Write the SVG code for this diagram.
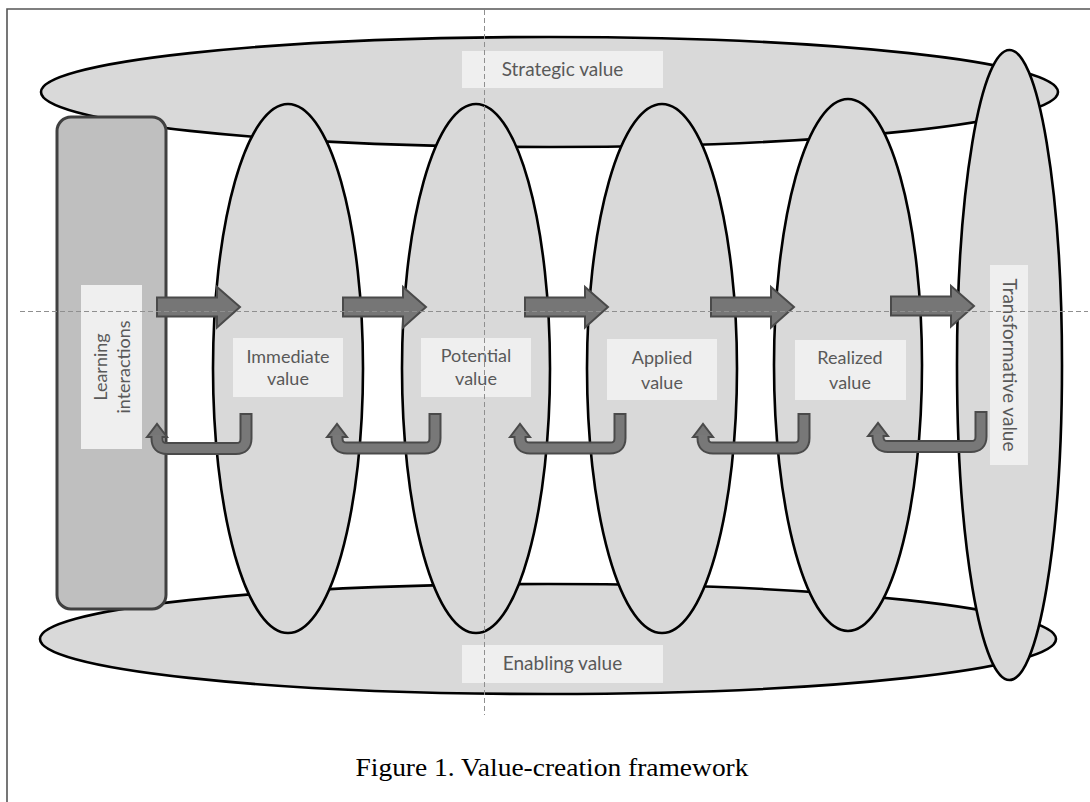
<svg xmlns="http://www.w3.org/2000/svg" width="1090" height="802" viewBox="0 0 1090 802">
<style>
.ell{fill:#d9d9d9;stroke:#000;stroke-width:2.6}
.box{fill:#efefef}
.lbl{font-family:Lato,"Open Sans",sans-serif;font-size:18px;fill:#595959;text-anchor:middle}
.big{font-size:19px}
.fw{fill:#767676;stroke:#4a4a4a;stroke-width:2;stroke-linejoin:miter}
.ro{fill:none;stroke:#4a4a4a;stroke-width:13}
.ri{fill:none;stroke:#787878;stroke-width:9}
.guide{stroke:#8f8f8f;stroke-width:1;stroke-dasharray:5 3;fill:none}
</style>
<defs>
<path id="fa" d="M0,-9.5 H60 V-20 L83,0 L60,20.5 V9.5 H0 Z"/>
</defs>
<rect x="0" y="0" width="1090" height="802" fill="#fff"/>
<path d="M7,802 V9 H1090" fill="none" stroke="#555" stroke-width="1.6"/>

<g id="strategic">
<ellipse class="ell" cx="549.5" cy="92" rx="508.5" ry="55"/>
</g>
<g id="enabling">
<ellipse class="ell" cx="548" cy="639" rx="508" ry="55"/>
</g>
<g id="learning">
<rect x="57" y="117" width="109" height="492" rx="14" fill="#bfbfbf" stroke="#404040" stroke-width="3"/>
</g>
<g id="immediate">
<ellipse class="ell" cx="288" cy="368.5" rx="75" ry="264.5"/>
</g>
<g id="potential">
<ellipse class="ell" cx="476" cy="368.5" rx="74" ry="264.5"/>
</g>
<g id="applied">
<ellipse class="ell" cx="662" cy="368.5" rx="75" ry="264.5"/>
</g>
<g id="realized">
<ellipse class="ell" cx="848" cy="365" rx="74" ry="266"/>
</g>
<g id="transformative">
<ellipse class="ell" cx="1009.5" cy="365" rx="52.5" ry="315"/>
</g>

<g id="connectors">
<use href="#fa" class="fw" x="157" y="307"/>
<use href="#fa" class="fw" x="343" y="307"/>
<use href="#fa" class="fw" x="525" y="307"/>
<use href="#fa" class="fw" x="711" y="307"/>
<use href="#fa" class="fw" x="891" y="306"/>

<g id="ret1">
<path class="ro" d="M246,413 V438.5 Q246,448.5 236,448.5 H167 Q157,448.5 157,438.5 V436"/>
<polygon class="fw" points="147,437 157,424 167,437"/>
<path class="ri" d="M246,415 V438.5 Q246,448.5 236,448.5 H167 Q157,448.5 157,438.5 V435"/>
</g>
<g id="ret2">
<path class="ro" d="M435,413 V438 Q435,448 425,448 H347 Q337,448 337,438 V436"/>
<polygon class="fw" points="327,437 337,424 347,437"/>
<path class="ri" d="M435,415 V438 Q435,448 425,448 H347 Q337,448 337,438 V435"/>
</g>
<g id="ret3">
<path class="ro" d="M620,413 V438 Q620,448 610,448 H530 Q520,448 520,438 V436"/>
<polygon class="fw" points="510,437 520,424 530,437"/>
<path class="ri" d="M620,415 V438 Q620,448 610,448 H530 Q520,448 520,438 V435"/>
</g>
<g id="ret4">
<path class="ro" d="M804,413 V438 Q804,448 794,448 H713 Q703,448 703,438 V436"/>
<polygon class="fw" points="693,437 703,424 713,437"/>
<path class="ri" d="M804,415 V438 Q804,448 794,448 H713 Q703,448 703,438 V435"/>
</g>
<g id="ret5">
<path class="ro" d="M981,411 V436.5 Q981,446.5 971,446.5 H888 Q878,446.5 878,436.5 V435"/>
<polygon class="fw" points="868,436 878,423 888,436"/>
<path class="ri" d="M981,413 V436.5 Q981,446.5 971,446.5 H888 Q878,446.5 878,436.5 V434"/>
</g>
</g>

<g id="labels">
<rect class="box" x="462" y="51" width="201" height="37"/>
<text class="lbl big" x="562.5" y="76">Strategic value</text>
<rect class="box" x="462" y="645" width="201" height="38"/>
<text class="lbl big" x="562.5" y="670">Enabling value</text>
<rect class="box" x="81" y="285" width="61" height="164"/>
<text class="lbl" transform="translate(111.5,367) rotate(-90)"><tspan x="0" y="-5">Learning</tspan><tspan x="0" y="18">interactions</tspan></text>
<rect class="box" x="233" y="338" width="110" height="59"/>
<text class="lbl" x="288" y="363">Immediate</text>
<text class="lbl" x="288" y="385">value</text>
<rect class="box" x="421" y="338" width="110" height="59"/>
<text class="lbl" x="476" y="362">Potential</text>
<text class="lbl" x="476" y="385">value</text>
<rect class="box" x="607" y="339" width="110" height="61"/>
<text class="lbl" x="662" y="364">Applied</text>
<text class="lbl" x="662" y="389">value</text>
<rect class="box" x="795" y="340" width="111" height="60"/>
<text class="lbl" x="850" y="364">Realized</text>
<text class="lbl" x="850" y="389">value</text>
<rect class="box" x="990" y="265" width="38" height="200"/>
<text class="lbl big" transform="translate(1009,365) rotate(90)" x="0" y="6">Transformative value</text>
</g>

<line class="guide" x1="20" y1="311.5" x2="1088" y2="311.5"/>
<line class="guide" x1="484.5" y1="10" x2="484.5" y2="715"/>

<text x="552" y="776" font-family="Liberation Serif,Times New Roman,serif" font-size="25" fill="#000" text-anchor="middle" textLength="393" lengthAdjust="spacingAndGlyphs">Figure 1. Value-creation framework</text>
</svg>
